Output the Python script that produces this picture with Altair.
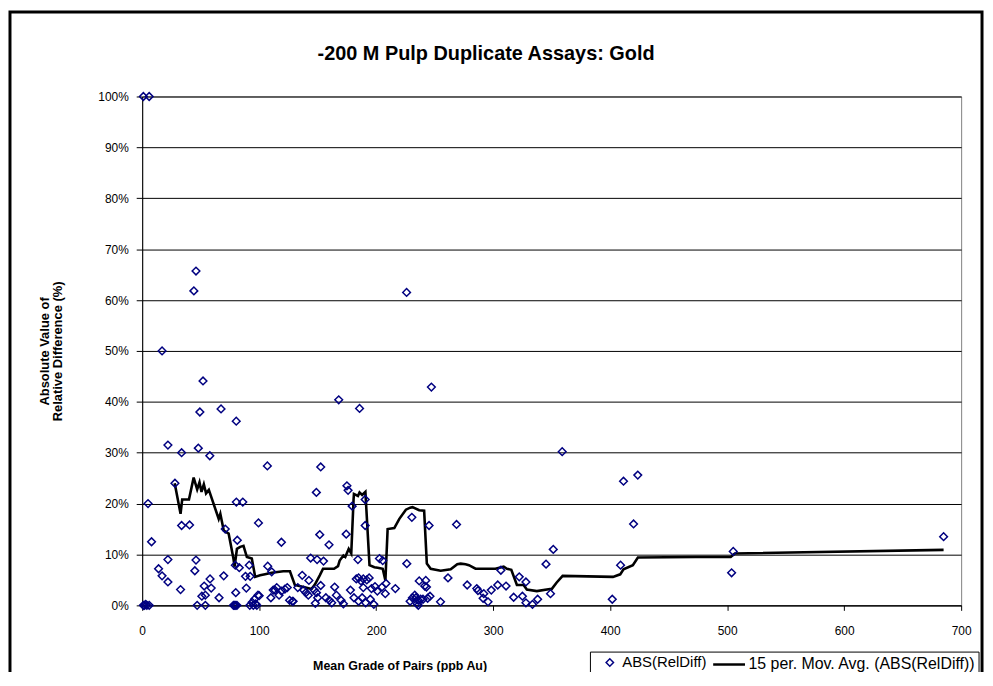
import altair as alt
import pandas as pd

# Scatter: mean grade (ppb Au) vs |relative difference| (%)
x_pts = [1, 6, 5, 8, 14, 17, 22, 22, 22, 17, 28, 1, 2, 4, 6, 3,
         33.7, 40.5, 33.7, 32.8, 46, 44.2, 52, 49.3, 48, 57.8, 46, 45, 58, 53, 59, 54, 51, 47, 54,
         67.4, 80.4, 80.5, 86, 71, 81.3, 79.6, 83, 91.5, 88.3, 92.3, 69.7, 65.7, 89, 80, 99, 96, 94, 97,
         78, 79, 80, 81, 92, 95, 98, 99.4,
         107, 107.3, 110.7, 119, 113.5, 110, 112, 115, 117, 119, 122, 124, 126, 128.5, 129, 100,
         136.8, 142.5, 144, 149.5, 148.9, 152.6, 151.8, 147, 149, 150, 148, 133, 138, 140, 142,
         155, 159.7, 168, 174.4, 175, 176, 179.5, 185.8, 190.6, 190.6, 184.4, 202.8, 152.6, 157, 160,
         162, 164.5, 166, 170, 172, 183, 185, 187, 189, 192, 194, 189, 196, 199, 201, 205, 178, 181,
         185, 188, 191, 195, 198, 205.6, 208.4, 207.8,
         216.4, 226.2, 226, 230.5, 247.2, 245.2, 236.8, 242.4, 241.5, 243, 234, 236, 238, 240, 244,
         246, 235, 236, 255, 231, 233, 229,
         268.7, 261.4, 277.8, 286, 287, 292, 291.4, 295.6, 298.4, 303.9, 311, 306.6, 322.3, 328,
         317.5, 325, 328, 333.6, 338, 345.2, 351.4, 349, 359,
         401.8, 408.9, 411.4, 420, 423.6, 503.8, 505.2, 685]
y_pts = [100, 100, 20, 12.5, 7.2, 5.8, 4.6, 9, 31.5, 50, 24, 0, 0, 0, 0, 0.2,
         15.7, 15.8, 30, 3.1, 65.7, 61.8, 44.1, 38, 30.9, 29.4, 8.9, 6.8, 5.2, 3.8, 3.4, 2.0, 1.8, 0, 0,
         38.6, 36.2, 20.3, 20.3, 15, 12.8, 7.9, 7.4, 7.9, 5.7, 5.7, 5.8, 1.5, 3.4, 2.5, 2.0, 1.2, 0.6, 0.3,
         0, 0, 0, 0, 0, 0, 0, 16.2,
         27.4, 7.7, 6.6, 12.4, 3, 1.5, 3, 3.5, 2, 2.8, 3.2, 3.5, 1, 0.8, 0.8, 1.9,
         5.9, 4.9, 9.3, 9, 22.2, 27.2, 13.9, 3, 2.5, 1.5, 0.4, 3.5, 3, 2.5, 2,
         8.7, 11.9, 40.4, 14, 23.5, 22.6, 19.5, 38.7, 20.8, 15.7, 9, 9.2, 3.9, 1.5, 1,
         0.5, 3.6, 2, 1, 0.3, 5.2, 5.4, 4.8, 5.2, 5, 5.4, 3.5, 3.3, 3.7, 2.8, 3.6, 3, 1.5,
         0.8, 1.5, 0.5, 1.2, 0.2, 8.8, 4.3, 2.3,
         3.3, 8.2, 61.5, 17.3, 42.9, 15.7, 4.8, 4.9, 3.8, 3.6, 1.5, 1, 1.2, 1.2, 1.4,
         1.8, 0.3, 0, 0.7, 1.5, 2, 0.8,
         15.9, 5.4, 4, 3.3, 2.9, 2.3, 1.4, 0.7, 3, 4, 3.8, 6.9, 5.6, 4.6,
         1.6, 1.8, 0.5, 0.2, 1.2, 8.1, 11, 2.3, 30.2,
         1.2, 7.9, 24.4, 16, 25.6, 6.4, 10.6, 13.5]

# 15-period moving average (vertices)
ma_x = [27.8, 32.8, 34.2, 40, 44, 47, 49, 50.7, 52.7, 54.6, 57, 65.4, 66.8, 69.7, 73.9, 78, 79, 81,
        83.8, 86.6, 89.5, 93.7, 96.6, 100.8, 105, 110.7, 120.6, 126.3, 130.5, 136.2, 144.7, 147.6,
        151.8, 154.6, 164, 167.4, 168.8, 172, 173.6, 176.5, 178.7, 180.7, 181, 184.4, 185.8, 188,
        190.8, 194.3, 198.5, 201.3, 205.6, 207.9, 209.8, 215.5, 219.8, 225.4, 229.1, 231, 236.8,
        241, 243.3, 246.6, 255.1, 263.7, 269.3, 272.2, 276.4, 279.3, 284.9, 292, 301.9, 309, 311.8,
        315.5, 320.3, 326, 328.8, 337.3, 348.6, 350, 354.3, 359.4, 402.4, 408.6, 411.4, 419.4,
        423.7, 473.2, 503, 506.6, 685]
ma_y = [24, 18, 20.8, 20.8, 25.1, 22.8, 24.2, 22.3, 23.8, 22, 22.7, 17, 18, 14.7, 14.1, 9.2, 7.6, 11.1,
        11.5, 11.7, 9.5, 9.2, 5.6, 5.9, 6.1, 6.4, 6.7, 6.7, 4.0, 3.7, 3.2, 4.1,
        5.9, 7.2, 7.2, 7.7, 8.8, 9.8, 9.5, 11.1, 10.2, 20.9, 21.9, 21.5, 22.2, 21.7,
        22.3, 7.9, 7.5, 7.4, 7.2, 4.9, 15, 15.2, 17, 18.8, 19.2, 19.3, 18.7,
        18.6, 8.2, 7.2, 6.8, 7.1, 8.1, 8.2, 8.1, 7.9, 7.2, 7.2, 7.2, 7.6, 7.2,
        7.0, 4.0, 4.0, 3.1, 2.8, 3.2, 3.2, 4.5, 5.8, 5.6, 6.1, 7.1, 7.9,
        9.4, 9.5, 9.5, 10.2, 10.9]

series_pts = "ABS(RelDiff)"
series_ma = "15 per. Mov. Avg. (ABS(RelDiff))"

pts = pd.DataFrame({"x": x_pts, "y": [v / 100 for v in y_pts], "s": series_pts})
ma = pd.DataFrame({"x": ma_x, "y": [v / 100 for v in ma_y], "s": series_ma})

FONT = "Liberation Sans"
xscale = alt.Scale(domain=[0, 700], nice=False, zero=True)
yscale = alt.Scale(domain=[0, 1], nice=False)

x_axis = alt.Axis(values=[0, 100, 200, 300, 400, 500, 600, 700], grid=False, tickSize=5,
                  labelFontSize=12, labelPadding=15, labelFlush=False, domainColor="black",
                  tickColor="black", labelColor="black",
                  title="Mean Grade of Pairs (ppb Au)", titleFontSize=12.5,
                  titleFont=FONT, titleFontWeight="bold", titleX=259, titleY=61,
                  titleAlign="center", titleBaseline="middle", titleColor="black")
y_axis = alt.Axis(values=[i / 10 for i in range(11)], format=".0%", grid=True, gridColor="black",
                  gridWidth=1, tickSize=6, labelFontSize=12, labelPadding=8, domainColor="black",
                  tickColor="black", labelColor="black",
                  title=["Absolute Value of", "Relative Difference (%)"], titleFontSize=13,
                  titleFont=FONT, titleFontWeight="bold", titleX=-104, titleY=256,
                  titleAngle=-90, titleAlign="center", titleBaseline="top", titleLineHeight=13,
                  titleColor="black")

points = alt.Chart(pts).mark_point(shape="diamond", filled=False, color="#000080",
                                   strokeWidth=1.5, size=60, opacity=1).encode(
    x=alt.X("x:Q", scale=xscale, axis=x_axis),
    y=alt.Y("y:Q", scale=yscale, axis=y_axis),
    shape=alt.Shape("s:N", scale=alt.Scale(domain=[series_pts], range=["diamond"]),
                    legend=alt.Legend(orient="none", legendX=463, legendY=562, title=None,
                                      labelFontSize=15, labelFont=FONT, labelColor="black",
                                      symbolStrokeColor="#000080", symbolFillColor="white",
                                      symbolStrokeWidth=1.5, symbolSize=55, padding=0,
                                      labelOffset=5, labelLimit=400)),
)

line = alt.Chart(ma).mark_line(strokeWidth=2.6, clip=False).encode(
    x=alt.X("x:Q", scale=xscale),
    y=alt.Y("y:Q", scale=yscale),
    color=alt.Color("s:N", scale=alt.Scale(domain=[series_ma], range=["black"]),
                    legend=alt.Legend(orient="none", legendX=573, legendY=554, title=None,
                                      labelFontSize=16, labelFont=FONT, labelColor="black",
                                      symbolType="stroke", symbolSize=1024,
                                      symbolStrokeWidth=2.5, padding=0, labelOffset=2,
                                      labelLimit=400)),
)

one = pd.DataFrame({"a": [0]})
legend_box = alt.Chart(one).mark_rect(fill="white", fillOpacity=0, stroke="black",
                                      strokeWidth=1, clip=False).encode(
    x=alt.value(451), x2=alt.value(842), y=alt.value(559), y2=alt.value(581))
frame = alt.Chart(one).mark_rect(fill="white", fillOpacity=0, stroke="black",
                                 strokeWidth=3, clip=False).encode(
    x=alt.value(-133), x2=alt.value(845), y=alt.value(-85), y2=alt.value(640))

chart = alt.layer(line, points, legend_box, frame).resolve_scale(
    color="independent", shape="independent"
).properties(
    width=824, height=512,
    title=alt.Title("-200 M Pulp Duplicate Assays: Gold", fontSize=20, font=FONT,
                    fontWeight="bold", color="black", anchor="middle", frame="group",
                    dx=-66, offset=0, dy=54),
    autosize=alt.AutoSizeParams(type="none"),
    padding={"left": 135, "top": 87, "right": 24, "bottom": 65},
).configure(font=FONT).configure_view(stroke="#808080", strokeWidth=1).configure_axis(
    labelFont=FONT, titleFont=FONT
)

chart.save("out.html", embed_options={"renderer": "svg", "actions": False})
